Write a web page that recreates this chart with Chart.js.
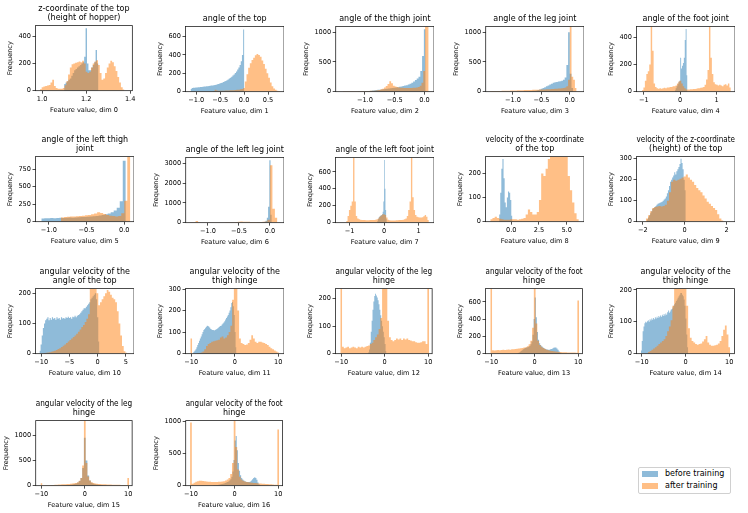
<!DOCTYPE html>
<html>
<head>
<meta charset="utf-8">
<script src="https://cdn.jsdelivr.net/npm/chart.js@4/dist/chart.umd.min.js"></script>
<style>
  html, body { margin: 0; padding: 0; background: #fff; }
  #root { position: relative; width: 748px; height: 513px; background: #fff; overflow: hidden; }
</style>
</head>
<body>
<div id="root"></div>
<script>
// ---------------- DATA (histogram counts per series, with bin range) ----------------
const seriesNames = ['before training', 'after training'];

const dim0Before = [50,60,70,80,90,110,130,150,160,170,180,190,200,210,250,460,200,150,150,170,190,210,300,200];
const dim0BeforeRange = [1.10, 1.256];
const dim0After = [10,25,30,35,38,42,60,80,35,20,15,15,15,20,40,70,120,170,195,200,205,210,215,210,220,200,140,130,140,170,200,215,225,190,130,80,90,130,170,200,220,210,180,145,100,60,25,8];
const dim0AfterRange = [0.99, 1.374];

const dim1Before = [30,40,42,43,45,46,47,48,50,52,53,55,57,58,60,62,64,66,68,70,73,76,80,84,88,93,98,104,110,117,125,133,142,152,163,175,188,203,220,240,262,290,330,400,676];
const dim1BeforeRange = [-1.12, 0.005];
const dim1After = [8,20,12,10,10,10,11,12,12,13,14,15,16,18,20,22,25,30,40,110,190,260,310,345,370,395,410,400,380,340,300,250,200,150,100,60,35,20,10,5];
const dim1AfterRange = [-0.65, 0.75];

const dim2Before = [2,3,4,6,8,10,13,16,20,24,28,31,34,37,40,44,48,52,56,60,65,70,76,82,88,95,102,110,120,135,150,170,195,220,250,350,600,1050];
const dim2BeforeRange = [-1.12, 0.02];
const dim2After = [5,6,6,7,7,8,8,8,9,9,10,10,11,12,13,14,15,17,20,25,30,40,50,70,95,130,175,140,100,85,78,72,68,65,63,62,61,61,62,64,66,70,80,100,150,350,1400,1400];
const dim2AfterRange = [-1.37, 0.07];

const dim3Before = [2,3,4,5,6,8,10,12,14,17,20,28,38,50,62,75,90,105,120,135,150,157,163,170,177,185,200,240,450,1000,300,60];
const dim3BeforeRange = [-0.9, 0.06];
const dim3After = [8,10,10,11,12,12,13,14,15,16,16,17,18,19,20,21,22,23,24,25,26,27,28,29,30,31,32,33,34,35,36,37,38,39,40,42,44,46,48,50,52,55,58,62,70,90,200,1400,250,200,60];
const dim3AfterRange = [-1.41, 0.12];

const dim4Before = [10,25,40,55,70,80,250,170,190,210,250,380,460,120];
const dim4BeforeRange = [-0.15, 0.2];
const dim4After = [10,30,80,130,150,200,900,300,60,35,25,22,25,22,25,28,25,30,30,35,35,40,40,45,60,75,80,60,40,25,15,15,15,18,18,20,20,22,25,25,28,30,35,50,90,160,900,250,130,70,55,50,45,50,45,40,50,55,45,60,30];
const dim4AfterRange = [-1.05, 1.39];

const dim5Before = [45,50,48,52,50,53,55,52,56,58,57,60,62,65,68,70,74,78,82,88,95,105,118,135,160,200,290,870];
const dim5BeforeRange = [-1.1, 0.02];
const dim5After = [60,65,70,72,75,78,80,85,90,95,105,115,135,125,110,95,85,80,75,80,120,300,940];
const dim5AfterRange = [-0.84, 0.08];

const dim6Before = [5,8,10,15,20,30,50,100,250,800,3150,400];
const dim6BeforeRange = [-0.21, 0.03];
const dim6After = [10,15,20,80,20,12,10,10,10,10,12,12,12,14,14,15,16,18,20,30,45,55,50,45,40,35,30,30,32,35,40,60,150,2900,700,250];
const dim6AfterRange = [-1.32, 0.12];

const dim7Before = [20,40,60,70,80,85,90,100,130,250,740,400,150,40];
const dim7BeforeRange = [-0.2, 0.08];
const dim7After = [20,80,150,200,250,1000,250,80,50,40,35,32,30,30,28,28,28,30,30,32,32,35,40,50,70,85,95,100,90,60,35,28,25,25,25,25,27,28,30,30,32,35,40,50,80,150,250,1000,300,150,90,70,65,60,60,65,75,90,70,30];
const dim7AfterRange = [-1.1, 1.3];

const dim8Before = [30,120,220,260,180,80,60,100,125,120,90,25];
const dim8BeforeRange = [-1.1, 0.1];
const dim8After = [10,15,20,15,12,10,8,8,8,10,10,10,8,10,12,15,30,50,40,30,30,40,90,200,190,220,260,300,340,360,350,330,320,300,280,190,130,80,35,10];
const dim8AfterRange = [-1.9, 6.1];

const dim9Before = [10,20,30,40,50,60,65,70,75,80,85,88,90,92,95,100,105,110,120,135,150,170,190,200,210,220,235,225,240,250,260,275,300,280,250,200,150];
const dim9BeforeRange = [-1.8, 0.05];
const dim9After = [15,30,50,65,70,72,75,72,75,80,100,140,190,200,195,200,205,210,215,225,210,200,190,175,160,150,140,125,110,95,85,75,65,55,35,15,5];
const dim9AfterRange = [-1.85, 1.85];

const dim10Before = [10,30,60,85,100,110,115,120,110,118,112,120,115,118,112,120,115,118,112,120,116,118,115,120,118,122,118,120,115,122,120,125,120,125,128,130,135,140,145,150,150,155,160,165,170,180,185,190,195,200,180,120,40];
const dim10BeforeRange = [-10.3, 0.3];
const dim10After = [2,3,4,5,6,8,10,12,15,18,22,26,30,35,40,45,50,55,60,66,72,80,88,95,105,115,130,250,300,300,250,200,160,170,180,190,200,210,205,195,185,180,170,140,100,60,25,8,3];
const dim10AfterRange = [-9.5, 5.2];

const dim11Before = [5,10,15,20,30,40,50,60,70,80,90,100,110,115,120,125,130,128,125,120,115,112,110,110,108,110,112,115,118,122,125,128,130,135,140,145,150,158,165,172,180,190,200,215,235,240,220,180,100,30];
const dim11BeforeRange = [-9.6, 0.4];
const dim11After = [70,0,0,0,2,3,5,10,20,35,45,50,55,58,60,62,65,75,80,70,75,85,100,130,250,350,350,200,70,50,45,40,42,50,65,85,70,55,50,55,55,52,50,45,40,32,25,20,15,10,5];
const dim11AfterRange = [-10.2, 10.2];

const dim12Before = [5,15,40,80,120,160,190,210,218,212,205,195,180,160,140,120,100,80,60,35,10];
const dim12BeforeRange = [-3.8, 0.4];
const dim12After = [600,25,20,22,25,20,22,25,22,20,25,22,25,22,25,28,30,35,40,50,60,70,90,130,300,400,250,120,60,50,45,50,55,52,55,50,55,52,55,50,48,45,45,42,40,40,42,45,45,35,600];
const dim12AfterRange = [-10.2, 10.2];

const dim13Before = [5,10,20,30,40,50,60,65,70,75,80,90,110,140,220,400,650,420,250,160,120,100,85,75,65,58,52,48,45,45,50,55,60,68,72,70,60,45,25,10];
const dim13BeforeRange = [-4, 6];
const dim13After = [900,40,38,40,42,40,42,45,42,45,48,45,50,52,55,58,60,62,65,70,75,85,110,150,300,900,350,150,100,80,65,55,45,40,35,30,28,25,22,20,18,16,15,15,14,14,13,12,12,10,615];
const dim13AfterRange = [-10.2, 10.2];

const dim14Before = [10,40,70,85,95,100,98,102,105,100,108,104,110,106,112,108,114,110,116,112,118,114,120,116,122,118,124,120,126,122,130,135,128,132,138,140,145,150,155,160,165,170,175,180,185,190,190,185,180,170,150,110,60,20];
const dim14BeforeRange = [-10.2, 0.6];
const dim14After = [5,8,12,16,20,25,30,35,40,45,55,70,85,105,150,230,260,280,280,270,250,220,150,80,50,40,35,30,28,30,32,38,45,55,35,28,25,25,26,28,32,40,55,75,88,60,20];
const dim14AfterRange = [-8.6, 10.2];

const dim15Before = [5,8,10,15,20,25,35,45,60,90,150,350,950,500,200,100,60,40,30,22,16,12,8,5,3];
const dim15BeforeRange = [-5, 5];
const dim15After = [50,5,5,6,8,10,12,15,18,20,22,24,26,28,30,32,35,38,42,48,55,70,95,150,400,1300,450,180,100,70,55,45,40,35,32,30,28,26,25,24,22,20,20,18,17,16,15,14,12,10,150];
const dim15AfterRange = [-10.2, 10.2];

const dim16Before = [3,5,8,10,12,15,18,22,26,30,35,40,48,55,65,80,100,140,220,400,700,770,550,350,230,160,120,95,80,70,62,58,55,58,65,80,100,120,130,120,90,50,20,5];
const dim16BeforeRange = [-5, 6];
const dim16After = [980,30,45,60,70,75,75,72,70,65,62,60,58,55,55,58,60,62,65,70,80,95,120,180,350,1100,600,250,140,95,75,65,58,52,48,45,42,40,38,35,32,30,28,26,24,22,20,18,16,14,870];
const dim16AfterRange = [-10.2, 10.2];

const titles = [
  ['z-coordinate of the top', '(height of hopper)'],
  'angle of the top',
  'angle of the thigh joint',
  'angle of the leg joint',
  'angle of the foot joint',
  ['angle of the left thigh', 'joint'],
  'angle of the left leg joint',
  'angle of the left foot joint',
  ['velocity of the x-coordinate', 'of the top'],
  ['velocity of the z-coordinate', '(height) of the top'],
  ['angular velocity of the', 'angle of the top'],
  ['angular velocity of the', 'thigh hinge'],
  ['angular velocity of the leg', 'hinge'],
  ['angular velocity of the foot', 'hinge'],
  ['angular velocity of the', 'thigh hinge'],
  ['angular velocity of the leg', 'hinge'],
  ['angular velocity of the foot', 'hinge']
];

const xTickLabels = [
  ['1.0','1.2','1.4'],
  ['\u22121.0','\u22120.5','0.0','0.5'],
  ['\u22121.0','\u22120.5','0.0'],
  ['\u22121.0','\u22120.5','0.0'],
  ['\u22121','0','1'],
  ['\u22121.0','\u22120.5','0.0'],
  ['\u22121.0','\u22120.5','0.0'],
  ['\u22121','0','1'],
  ['0.0','2.5','5.0'],
  ['\u22122','0','2'],
  ['\u221210','\u22125','0','5'],
  ['\u221210','0','10'],
  ['\u221210','0','10'],
  ['\u221210','0','10'],
  ['\u221210','0','10'],
  ['\u221210','0','10'],
  ['\u221210','0','10']
];

const yTickLabels = [
  ['0','200','400'],
  ['0','200','400','600'],
  ['0','500','1000'],
  ['0','500','1000'],
  ['0','200','400'],
  ['0','250','500','750'],
  ['0','1000','2000','3000'],
  ['0','200','400','600'],
  ['0','100','200'],
  ['0','100','200','300'],
  ['0','100','200'],
  ['0','100','200','300'],
  ['0','100','200'],
  ['0','200','400','600'],
  ['0','100','200'],
  ['0','500','1000'],
  ['0','500','1000']
];

const xLimits = [
  [0.97, 1.41], [-1.225, 0.834], [-1.49, 0.16], [-1.48, 0.25], [-1.2, 1.505],
  [-1.177, 0.129], [-1.36, 0.227], [-1.41, 1.45], [-2.33, 6.57], [-2.3, 2.4],
  [-11.0, 6.42], [-11.3, 11.3], [-11.3, 10.9], [-11.3, 11.0], [-11.2, 11.2],
  [-11.3, 10.9], [-11.2, 11.0]
];

const yLimits = [480, 710, 1100, 1100, 480, 930, 3300, 770, 270, 310, 215, 302, 237, 753, 204, 1290, 1010];

// ---------------- assembly ----------------
const beforeCounts = [dim0Before, dim1Before, dim2Before, dim3Before, dim4Before, dim5Before, dim6Before, dim7Before, dim8Before, dim9Before, dim10Before, dim11Before, dim12Before, dim13Before, dim14Before, dim15Before, dim16Before];
const beforeRanges = [dim0BeforeRange, dim1BeforeRange, dim2BeforeRange, dim3BeforeRange, dim4BeforeRange, dim5BeforeRange, dim6BeforeRange, dim7BeforeRange, dim8BeforeRange, dim9BeforeRange, dim10BeforeRange, dim11BeforeRange, dim12BeforeRange, dim13BeforeRange, dim14BeforeRange, dim15BeforeRange, dim16BeforeRange];
const afterCounts = [dim0After, dim1After, dim2After, dim3After, dim4After, dim5After, dim6After, dim7After, dim8After, dim9After, dim10After, dim11After, dim12After, dim13After, dim14After, dim15After, dim16After];
const afterRanges = [dim0AfterRange, dim1AfterRange, dim2AfterRange, dim3AfterRange, dim4AfterRange, dim5AfterRange, dim6AfterRange, dim7AfterRange, dim8AfterRange, dim9AfterRange, dim10AfterRange, dim11AfterRange, dim12AfterRange, dim13AfterRange, dim14AfterRange, dim15AfterRange, dim16AfterRange];

const FONT = "'DejaVu Sans', 'Liberation Sans', sans-serif";
const TXT = '#000';
const BLUE = 'rgba(31,119,180,0.5)';
const ORANGE = 'rgba(255,127,14,0.5)';
const BOX_W = 98, BOX_H = 65;
const colLeft = [36, 186, 336, 486, 637];
const rowTop = [26, 157, 289, 421];

function toSteps(counts, range) {
  const lo = range[0], hi = range[1];
  const w = (hi - lo) / counts.length;
  const pts = counts.map((c, i) => ({ x: lo + i * w, y: c }));
  pts.push({ x: hi, y: 0 });
  return pts;
}
const parseTick = s => parseFloat(s.replace('\u2212', '-'));

const framePlugin = {
  id: 'frame',
  afterDatasetsDraw(chart) {
    const a = chart.chartArea, ctx = chart.ctx;
    ctx.save();
    ctx.strokeStyle = '#222';
    ctx.lineWidth = 0.8;
    ctx.strokeRect(a.left, a.top, a.right - a.left, a.bottom - a.top);
    ctx.restore();
  }
};

function axisCommon(labels) {
  return {
    ticks: {
      autoSkip: false, maxRotation: 0, minRotation: 0, padding: 1.5, color: TXT,
      font: { family: FONT, size: 6.6 },
      callback: (v, i) => labels[i]
    },
    grid: { drawOnChartArea: false, drawTicks: true, tickLength: 3, color: '#222', lineWidth: 0.8 },
    border: { display: false },
    afterBuildTicks: s => { s.ticks = labels.map(t => ({ value: parseTick(t) })); }
  };
}

function makeConfig(k) {
  const xa = axisCommon(xTickLabels[k]);
  const ya = axisCommon(yTickLabels[k]);
  return {
    type: 'line',
    data: {
      datasets: [
        // order: lower value is painted last (on top) -> orange over blue as in matplotlib
        { label: seriesNames[0], order: 2, data: toSteps(beforeCounts[k], beforeRanges[k]), stepped: true, fill: 'origin',
          backgroundColor: BLUE, borderColor: 'rgba(0,0,0,0)', borderWidth: 0, pointRadius: 0 },
        { label: seriesNames[1], order: 1, data: toSteps(afterCounts[k], afterRanges[k]), stepped: true, fill: 'origin',
          backgroundColor: ORANGE, borderColor: 'rgba(0,0,0,0)', borderWidth: 0, pointRadius: 0 }
      ]
    },
    options: {
      responsive: false, maintainAspectRatio: false, animation: false, events: [],
      layout: { padding: 0 },
      plugins: {
        legend: { display: false }, tooltip: { enabled: false },
        title: { display: true, text: titles[k], fullSize: false, color: TXT,
                 font: { family: FONT, size: 8, weight: 'normal', lineHeight: 1.15 },
                 padding: { top: 0, bottom: 3.2 } }
      },
      scales: {
        x: Object.assign({ type: 'linear', min: xLimits[k][0], max: xLimits[k][1],
             title: { display: true, text: 'Feature value, dim ' + k, color: TXT,
                      font: { family: FONT, size: 6.6 }, padding: { top: 1.5, bottom: 0 } } }, xa),
        y: Object.assign({ type: 'linear', min: 0, max: yLimits[k],
             title: { display: true, text: 'Frequency', color: TXT,
                      font: { family: FONT, size: 6.6 }, padding: { top: 0, bottom: 3 } } }, ya)
      }
    },
    plugins: [framePlugin]
  };
}

const root = document.getElementById('root');

function place(k) {
  const col = k % 5, row = Math.floor(k / 5);
  const W0 = 200, H0 = 150;
  const c0 = document.createElement('canvas');
  c0.width = W0; c0.height = H0; c0.style.position = 'absolute';
  root.appendChild(c0);
  let ch = new Chart(c0, makeConfig(k));
  const a = ch.chartArea;
  const L = a.left, T = a.top, R = W0 - a.right, B = H0 - a.bottom;
  ch.destroy();
  root.removeChild(c0);

  const c1 = document.createElement('canvas');
  c1.width = Math.round(BOX_W + L + R);
  c1.height = Math.round(BOX_H + T + B);
  c1.style.position = 'absolute';
  root.appendChild(c1);
  ch = new Chart(c1, makeConfig(k));
  const b = ch.chartArea;
  c1.style.left = Math.round(colLeft[col] - b.left) + 'px';
  c1.style.top = Math.round(rowTop[row] - b.top) + 'px';
}

for (let k = 0; k < 17; k++) place(k);

// legend
const lg = document.createElement('div');
lg.style.cssText = 'position:absolute;left:638px;top:467px;width:91px;height:25px;border:1px solid #d0d0d0;border-radius:2px;background:#fff;font-family:' + FONT.replace(/"/g, '') + ';font-size:8px;color:' + TXT + ';';
[BLUE, ORANGE].forEach((col, i) => {
  const sw = document.createElement('div');
  sw.style.cssText = 'position:absolute;left:3px;top:' + (3.2 + 12 * i) + 'px;width:16px;height:5.6px;background:' + col + ';';
  lg.appendChild(sw);
  const tx = document.createElement('div');
  tx.style.cssText = 'position:absolute;left:26px;top:' + (1 + 12 * i) + 'px;line-height:10px;white-space:nowrap;';
  tx.textContent = seriesNames[i];
  lg.appendChild(tx);
});
root.appendChild(lg);
</script>
</body>
</html>
